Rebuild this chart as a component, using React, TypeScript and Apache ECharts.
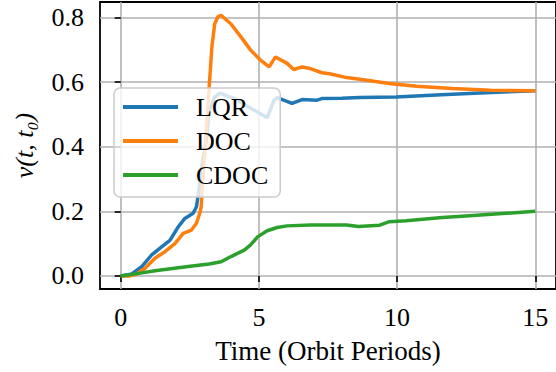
import React, { useEffect, useRef } from "react";
import * as echarts from "echarts";

// Time samples (orbit periods) and values for each controller
const lqrT = [0, 0.4, 0.76, 1.12, 1.48, 1.78, 2.08, 2.32, 2.62, 2.74, 2.82, 2.97, 3.1, 3.2, 3.4, 3.6, 4.23, 4.83, 5.3, 5.55, 5.66, 6.2, 6.56, 7.1, 7.28, 8.0, 8.64, 9.96, 11.6, 13.4, 15];
const lqrV = [0, 0.006, 0.029, 0.065, 0.09, 0.11, 0.152, 0.178, 0.194, 0.214, 0.26, 0.36, 0.42, 0.51, 0.554, 0.566, 0.544, 0.513, 0.49, 0.544, 0.552, 0.534, 0.546, 0.544, 0.549, 0.55, 0.552, 0.554, 0.561, 0.568, 0.573];

const docT = [0, 0.3, 0.58, 0.88, 1.24, 1.6, 1.96, 2.26, 2.56, 2.74, 2.86, 2.91, 2.95, 3.05, 3.15, 3.22, 3.3, 3.4, 3.52, 3.63, 3.99, 4.35, 4.7, 5.06, 5.37, 5.6, 6.02, 6.26, 6.56, 6.86, 7.28, 7.56, 8.17, 8.65, 9.72, 10.7, 12.0, 13.4, 15];
const docV = [0, 0, 0.006, 0.024, 0.055, 0.075, 0.1, 0.132, 0.142, 0.163, 0.194, 0.214, 0.27, 0.4, 0.52, 0.61, 0.71, 0.78, 0.803, 0.807, 0.78, 0.74, 0.699, 0.668, 0.647, 0.678, 0.658, 0.639, 0.647, 0.642, 0.629, 0.626, 0.614, 0.609, 0.596, 0.587, 0.58, 0.575, 0.573];

const cdocT = [0, 0.65, 1.24, 2.44, 3.2, 3.63, 3.99, 4.47, 4.7, 4.95, 5.3, 5.66, 6.02, 6.86, 8.17, 8.6, 9.37, 9.72, 10.32, 11.64, 12.35, 15];
const cdocV = [0, 0.008, 0.016, 0.029, 0.037, 0.044, 0.06, 0.08, 0.096, 0.121, 0.14, 0.15, 0.155, 0.158, 0.158, 0.153, 0.157, 0.168, 0.171, 0.181, 0.185, 0.2];

const xTicks = [0, 5, 10, 15];
const yTicks = [0, 0.2, 0.4, 0.6, 0.8];

const FONT = "serif";

const zip = (t: number[], v: number[]) => t.map((x, i) => [x, v[i]]);

export default function App() {
  const ref = useRef<HTMLDivElement>(null);

  useEffect(() => {
    if (!ref.current) return;
    const chart = echarts.init(ref.current, null, { renderer: "svg" });

    const line = (name: string, color: string, data: number[][]) => ({
      name,
      type: "line",
      data,
      symbol: "none",
      lineStyle: { color, width: 3.5 },
      itemStyle: { color },
    });

    chart.setOption({
      animation: false,
      backgroundColor: "#ffffff",
      textStyle: { fontFamily: FONT },
      grid: {
        left: 100,
        top: 2,
        right: -5,
        bottom: 83,
        show: true,
        borderColor: "#000000",
        borderWidth: 1.8,
        backgroundColor: "transparent",
      },
      xAxis: {
        type: "value",
        min: -0.75,
        max: 15.75,
        axisLine: { show: false },
        axisTick: {
          show: true,
          customValues: xTicks,
          length: 6,
          lineStyle: { color: "#000", width: 1.6 },
        },
        axisLabel: {
          customValues: xTicks,
          margin: 15,
          fontFamily: FONT,
          fontSize: 26,
          color: "#000",
        },
        splitLine: { show: true, lineStyle: { color: "#b0b0b0", width: 1.6 } },
        name: "Time (Orbit Periods)",
        nameLocation: "middle",
        nameGap: 48,
        nameTextStyle: { fontFamily: FONT, fontSize: 27, color: "#000" },
      },
      yAxis: {
        type: "value",
        min: -0.0404,
        max: 0.848,
        axisLine: { show: false },
        axisTick: {
          show: true,
          customValues: yTicks,
          length: 6,
          lineStyle: { color: "#000", width: 1.6 },
        },
        axisLabel: {
          customValues: yTicks,
          margin: 16,
          fontFamily: FONT,
          fontSize: 26,
          color: "#000",
          formatter: (v: number) => v.toFixed(1),
        },
        splitLine: { show: true, lineStyle: { color: "#b0b0b0", width: 1.6 } },
        name: "v(t, t\u2080)",
        nameLocation: "middle",
        nameRotate: 90,
        nameGap: 63,
        nameTextStyle: {
          fontFamily: FONT,
          fontStyle: "italic",
          fontSize: 26,
          color: "#000",
        },
      },
      legend: {
        orient: "vertical",
        left: 114,
        top: 88,
        padding: [6, 12, 9, 9],
        itemGap: 8,
        itemWidth: 55,
        itemHeight: 4,
        icon: "rect",
        backgroundColor: "rgba(255,255,255,0.8)",
        borderColor: "#cccccc",
        borderWidth: 1.5,
        borderRadius: 6,
        formatter: (name: string) => "\u00a0\u00a0" + name,
        textStyle: {
          fontFamily: FONT,
          fontSize: 26,
          color: "#000",
        },
        data: ["LQR", "DOC", "CDOC"],
      },
      series: [
        line("LQR", "#1f77b4", zip(lqrT, lqrV)),
        line("DOC", "#ff7f0e", zip(docT, docV)),
        line("CDOC", "#2ca02c", zip(cdocT, cdocV)),
      ],
    });

    return () => chart.dispose();
  }, []);

  return (
    <div
      ref={ref}
      style={{ position: "absolute", left: 0, top: 0, width: 556, height: 372 }}
    />
  );
}
